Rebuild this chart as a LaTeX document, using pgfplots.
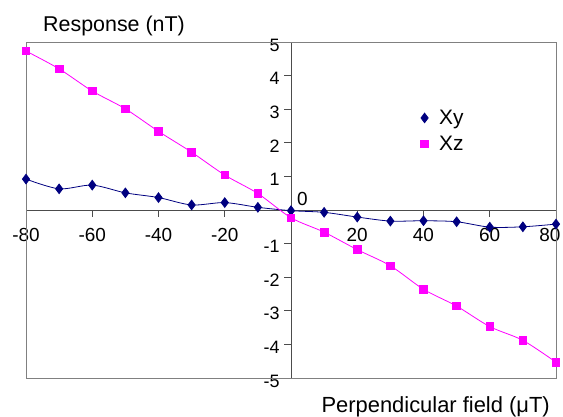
\documentclass[border=0pt]{standalone}
\usepackage{pgfplots}
\pgfplotsset{compat=1.18}
\usepackage{fontspec}
\setmainfont{Liberation Sans}
\definecolor{navyblue}{RGB}{0,0,128}
\definecolor{xzmag}{RGB}{255,0,255}
\definecolor{framegray}{RGB}{128,128,128}
\begin{document}
\begin{tikzpicture}
\path[use as bounding box] (0,0) rectangle (563bp,417bp);
\begin{axis}[
  at={(26bp,39bp)}, anchor=south west,
  scale only axis, width=530bp, height=336bp,
  xmin=-80, xmax=80, ymin=-5, ymax=5,
  axis lines=middle,
  axis line style={-, draw=black!70, line width=0.9bp},
  xtick={-80,-60,-40,-20,20,40,60,80},
  xticklabels={-80,-60,-40,-20,20,40,60,\hspace{-12bp}80},
  ytick={-5,-4,-3,-2,-1,1,2,3,4,5},
  tick align=outside,
  major tick length=7bp,
  tick style={draw=black!70, line width=0.8bp},
  /pgf/number format/assume math mode=true,
  xticklabel style={font=\fontsize{19}{22}\selectfont, yshift=-8bp},
  yticklabel style={font=\fontsize{18}{22}\selectfont, yshift=-3bp, xshift=-1bp},
  xlabel={Perpendicular field (μT)},
  xlabel style={font=\fontsize{22}{25}\selectfont, at={(rel axis cs:1,0)}, anchor=base east, xshift=-6bp, yshift=-34bp, inner sep=0pt},
  ylabel={Response (nT)},
  ylabel style={font=\fontsize{21.5}{24}\selectfont, rotate=0, at={(rel axis cs:0,1)}, anchor=base west, xshift=17bp, yshift=10bp, inner sep=0pt},
  legend style={draw=none, fill=none, font=\fontsize{21}{26}\selectfont, at={(rel axis cs:0.73,0.81)}, anchor=north west, row sep=6bp},
  legend cell align=left,
  legend image code/.code={\draw[mark repeat=2, mark phase=2, #1, draw=none] plot coordinates {(0cm,0cm) (0.3cm,0cm) (0.6cm,0cm)};},
  clip=false,
]
\draw[framegray, line width=0.9bp] (rel axis cs:0,0) rectangle (rel axis cs:1,1);
\addplot[navyblue, line width=0.8bp, smooth, tension=0.5, mark=diamond*, mark size=4.8bp, mark options={solid, fill=navyblue, draw=navyblue}]
coordinates {(-80,0.92) (-70,0.63) (-60,0.74) (-50,0.51) (-40,0.37) (-30,0.15) (-20,0.22) (-10,0.08) (0,-0.02) (10,-0.07) (20,-0.21) (30,-0.33) (40,-0.32) (50,-0.35) (60,-0.51) (70,-0.50) (80,-0.42)};
\addlegendentry{\hspace{4bp}Xy}
\addplot[xzmag, line width=0.8bp, smooth, tension=0.5, mark=square*, mark size=3.8bp, mark options={solid, fill=xzmag, draw=xzmag}]
coordinates {(-80,4.73) (-70,4.20) (-60,3.54) (-50,3.01) (-40,2.34) (-30,1.72) (-20,1.04) (-10,0.49) (0,-0.23) (10,-0.66) (20,-1.18) (30,-1.66) (40,-2.36) (50,-2.86) (60,-3.47) (70,-3.88) (80,-4.53)};
\addlegendentry{\hspace{4bp}Xz}
\node[anchor=base west, inner sep=0pt, font=\fontsize{19}{22}\selectfont] at (axis cs:0,0) [xshift=6bp, yshift=4bp] {0};
\end{axis}
\end{tikzpicture}
\end{document}
